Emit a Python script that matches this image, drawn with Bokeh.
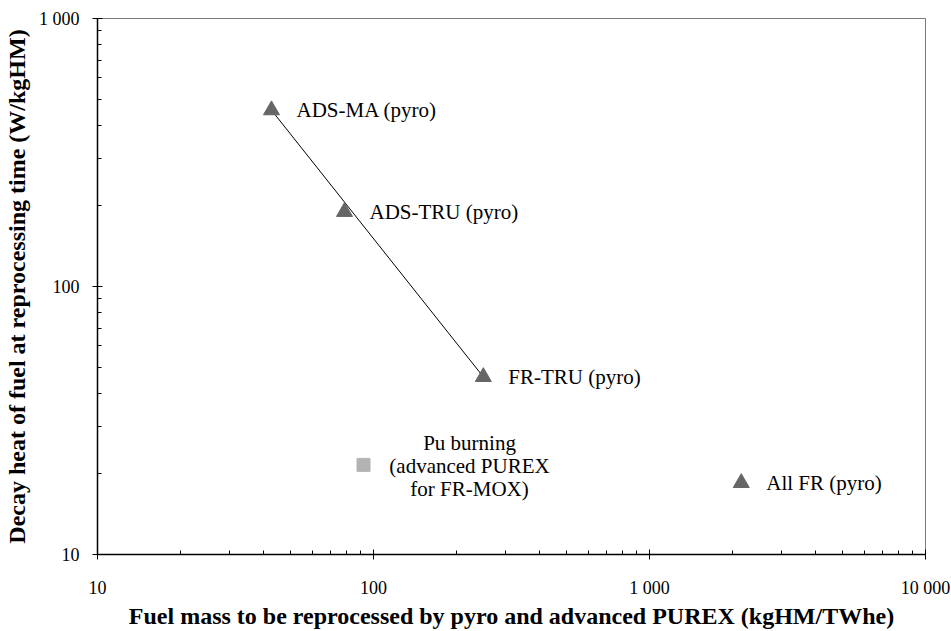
from bokeh.plotting import figure
from bokeh.models import FixedTicker, Range1d, ColumnDataSource, LabelSet
from bokeh.embed import file_html
from bokeh.resources import INLINE
from bokeh.core.properties import value

# ---- data ----
tri_names = ["ADS-MA (pyro)", "ADS-TRU (pyro)", "FR-TRU (pyro)", "All FR (pyro)"]
tri_mass = [42.7, 78.5, 250.0, 2150.0]
tri_heat = [455.0, 190.0, 46.0, 18.5]

sq_lines = ["Pu burning", "(advanced PUREX", "for FR-MOX)"]
sq_mass = [92.0]
sq_heat = [21.6]

trend_mass = [42.7, 250.0]
trend_heat = [455.0, 46.0]

x_ticks = [10, 100, 1000, 10000]
x_tick_labels = ["10", "100", "1 000", "10 000"]
y_ticks = [10, 100, 1000]
y_tick_labels = ["10", "100", "1 000"]

FONT = "Liberation Serif"

p = figure(width=951, height=631, x_axis_type="log", y_axis_type="log",
           x_range=Range1d(10, 10000), y_range=Range1d(10, 1000),
           output_backend="svg", toolbar_location=None,
           min_border_left=96, min_border_right=26, min_border_top=18, min_border_bottom=74)
p.xgrid.visible = False
p.ygrid.visible = False
p.outline_line_color = "#7a7a7a"
p.outline_line_width = 1
p.background_fill_color = "white"
p.border_fill_color = "white"

x_minor = [m * 10 ** d for d in range(1, 4) for m in range(2, 10)]
y_minor = [m * 10 ** d for d in range(1, 3) for m in range(2, 10)]
p.xaxis.ticker = FixedTicker(ticks=x_ticks, minor_ticks=x_minor)
p.yaxis.ticker = FixedTicker(ticks=y_ticks, minor_ticks=y_minor)
p.xaxis.major_label_overrides = {t: l for t, l in zip(x_ticks, x_tick_labels)}
p.yaxis.major_label_overrides = {t: l for t, l in zip(y_ticks, y_tick_labels)}

for ax in (p.xaxis, p.yaxis):
    ax.axis_line_color = "black"
    ax.axis_line_width = 1.5
    ax.major_tick_line_color = "black"
    ax.minor_tick_line_color = "black"
    ax.major_tick_in = 5
    ax.major_tick_out = 5
    ax.minor_tick_in = 4
    ax.minor_tick_out = 0
    ax.major_label_text_font = FONT
    ax.major_label_text_font_size = "18px"
    ax.major_label_text_color = "black"
    ax.axis_label_text_font = FONT
    ax.axis_label_text_font_size = "24px"
    ax.axis_label_text_font_style = "bold"
    ax.axis_label_text_color = "black"

p.xaxis.axis_label = "Fuel mass to be reprocessed by pyro and advanced PUREX (kgHM/TWhe)"
p.yaxis.axis_label = "Decay heat of fuel at reprocessing time (W/kgHM)"
p.xaxis.major_label_standoff = 18
p.xaxis.axis_label_standoff = 2
p.yaxis.major_label_standoff = 13
p.yaxis.axis_label_standoff = 6

p.line(trend_mass, trend_heat, line_color="black", line_width=1)
p.scatter(tri_mass, tri_heat, marker="triangle", size=16,
          fill_color="#666666", line_color="#666666")
p.scatter(sq_mass, sq_heat, marker="square", size=13,
          fill_color="#b3b3b3", line_color="#b3b3b3")

tri_src = ColumnDataSource(dict(x=tri_mass, y=tri_heat, t=tri_names))
p.add_layout(LabelSet(x="x", y="y", text="t", source=tri_src, x_offset=25, y_offset=0,
                      text_baseline="middle", text_align="left",
                      text_font=value(FONT), text_font_size=value("21px"),
                      text_color="black"))

for i, line in enumerate(sq_lines):
    src = ColumnDataSource(dict(x=sq_mass, y=sq_heat, t=[line]))
    p.add_layout(LabelSet(x="x", y="y", text="t", source=src, x_offset=106,
                          y_offset=(1 - i) * 23 - 1,
                          text_baseline="middle", text_align="center",
                          text_font=value(FONT), text_font_size=value("21px"),
                          text_color="black"))

open("out.html", "w").write(file_html(p, INLINE))
